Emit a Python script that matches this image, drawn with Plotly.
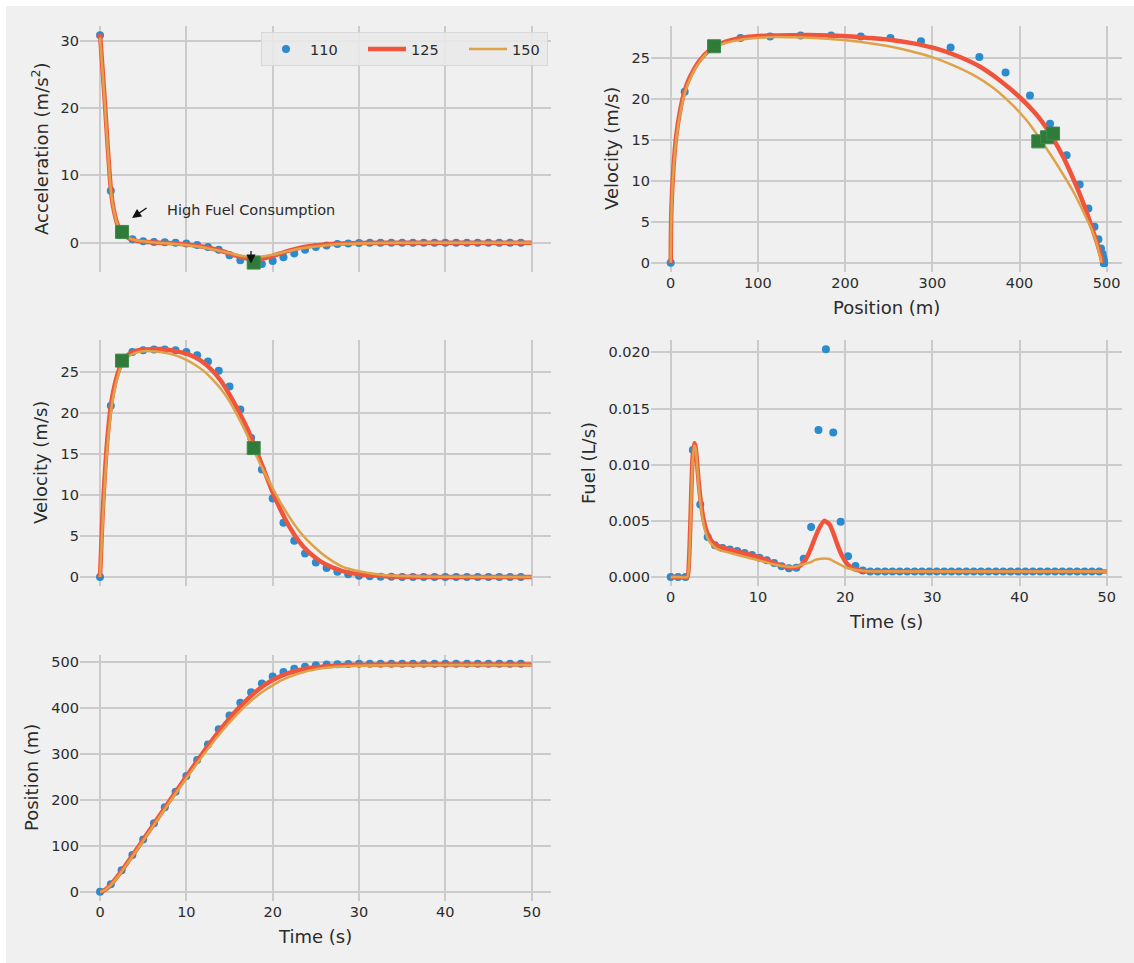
import plotly.graph_objects as go

# ---------------- data ----------------
t_dots = [0, 1.25, 2.5, 3.75, 5, 6.25, 7.5, 8.75, 10, 11.25, 12.5, 13.75, 15, 16.25, 17.5,
          18.75, 20, 21.25, 22.5, 23.75, 25, 26.25, 27.5, 28.75, 30, 31.25, 32.5, 33.75, 35,
          36.25, 37.5, 38.75, 40, 41.25, 42.5, 43.75, 45, 46.25, 47.5, 48.75]
acc_110 = [30.8, 7.7, 1.8, 0.5, 0.2, 0.1, 0.05, 0.0, -0.1, -0.35, -0.65, -1.05, -1.85, -2.6, -3.1,
           -3.15, -2.7, -2.15, -1.6, -1.05, -0.65, -0.4, -0.2, -0.1, -0.05, 0, 0, 0, 0,
           0, 0, 0, 0, 0, 0, 0, 0, 0, 0, 0]
vel_110 = [0, 20.85, 26.3, 27.4, 27.6, 27.7, 27.7, 27.6, 27.4, 27.0, 26.25, 25.1, 23.2, 20.4, 16.95,
           13.1, 9.55, 6.6, 4.4, 2.85, 1.75, 1.1, 0.65, 0.33, 0.16, 0.08, 0.04, 0.02, 0.01,
           0, 0, 0, 0, 0, 0, 0, 0, 0, 0, 0]
pos_110 = [0, 16, 47, 80, 114, 149, 184, 218, 252, 287, 321, 354, 384, 412, 435,
           454, 469, 479, 486, 490.5, 493.5, 495.2, 496.1, 496.6, 496.8, 496.9, 496.9, 496.9, 496.9,
           496.9, 496.9, 496.9, 496.9, 496.9, 496.9, 496.9, 496.9, 496.9, 496.9, 496.9]

t_fuel_dots = [0, 0.85, 1.69, 2.54, 3.39, 4.24, 5.08, 5.93, 6.78, 7.63, 8.47, 9.32, 10.17, 11.02,
               11.86, 12.71, 13.56, 14.41, 15.25, 16.10, 16.95, 17.80, 18.64, 19.49, 20.34, 21.19,
               22.03, 22.88, 23.73, 24.58, 25.42, 26.27, 27.12, 27.97, 28.81, 29.66, 30.51, 31.36,
               32.20, 33.05, 33.90, 34.75, 35.59, 36.44, 37.29, 38.14, 38.98, 39.83, 40.68, 41.53,
               42.37, 43.22, 44.07, 44.92, 45.76, 46.61, 47.46, 48.31, 49.15]
fuel_110 = [0, 0, 0, 0.0113, 0.00645, 0.00357, 0.00282, 0.00259, 0.00244, 0.00232, 0.00214,
            0.00196, 0.00172, 0.00149, 0.00125, 0.00095, 0.00077, 0.00083, 0.00163, 0.00446,
            0.01308, 0.02027, 0.01287, 0.00493, 0.00184, 0.00098, 0.00059,
            0.0005, 0.0005, 0.0005, 0.0005, 0.0005, 0.0005, 0.0005, 0.0005, 0.0005, 0.0005, 0.0005,
            0.0005, 0.0005, 0.0005, 0.0005, 0.0005, 0.0005, 0.0005, 0.0005, 0.0005, 0.0005, 0.0005,
            0.0005, 0.0005, 0.0005, 0.0005, 0.0005, 0.0005, 0.0005, 0.0005, 0.0005, 0.0005]

t_acc = [0, 0.25, 0.5, 0.75, 1, 1.25, 1.5, 2, 2.5, 3, 3.5, 4, 5, 6, 8, 10, 12, 14, 15, 16,
         17, 17.5, 18, 19, 20, 21, 22, 23, 24, 26, 28, 30, 35, 40, 50]
acc_125 = [31.0, 26.5, 22.0, 17.0, 12.2, 8.0, 5.5, 2.8, 1.6, 0.95, 0.55, 0.35, 0.15, 0.05, -0.05,
           -0.25, -0.6, -1.2, -1.6, -2.0, -2.35, -2.45, -2.45, -2.3, -1.95, -1.55, -1.15, -0.8,
           -0.55, -0.25, -0.1, -0.03, 0, 0, 0]
acc_150 = [30.5, 26.2, 21.7, 16.8, 12.0, 7.9, 5.5, 2.8, 1.6, 1.0, 0.6, 0.4, 0.2, 0.05, -0.1,
           -0.35, -0.7, -1.25, -1.55, -1.85, -2.05, -2.1, -2.1, -2.0, -1.8, -1.5, -1.2, -0.9,
           -0.7, -0.4, -0.2, -0.1, 0, 0, 0]

t_vel = [0, 0.25, 0.5, 0.75, 1, 1.25, 1.5, 2, 2.5, 3, 4, 5, 6, 7, 8, 9, 10, 11, 12, 13,
         14, 15, 16, 17, 17.5, 18, 19, 20, 21, 22, 23, 24, 25, 26, 28, 30, 33, 36, 40, 50]
vel_125 = [0, 6.5, 11.5, 15.5, 18.5, 20.8, 22.4, 24.6, 26.0, 26.8, 27.5, 27.7, 27.75, 27.75,
           27.65, 27.45, 27.2, 26.75, 26.1, 25.15, 23.9, 22.2, 20.3, 18.2, 17.0, 15.7, 13.0,
           10.3, 8.0, 6.0, 4.4, 3.2, 2.3, 1.6, 0.75, 0.32, 0.1, 0.03, 0.0, 0.0]
vel_150 = [0, 5.5, 10.5, 14.5, 17.6, 20.0, 21.8, 24.2, 25.8, 26.6, 27.25, 27.5, 27.5, 27.4,
           27.2, 26.9, 26.45, 25.85, 25.1, 24.1, 22.9, 21.4, 19.5, 17.4, 16.2, 15.0, 12.8,
           10.8, 8.9, 7.2, 5.7, 4.5, 3.5, 2.6, 1.3, 0.7, 0.22, 0.08, 0.02, 0]
pos_125 = [0, 0.8, 3.1, 6.4, 10.7, 15.6, 21.0, 32.7, 45.4, 58.6, 85.7, 113.3, 141.0, 168.8,
           196.5, 224.0, 251.3, 278.3, 304.7, 330.3, 354.8, 377.9, 399.1, 418.4, 427.2, 435.4,
           449.7, 461.4, 470.5, 477.5, 482.7, 486.5, 489.3, 491.2, 493.6, 494.6, 495.2, 495.4,
           495.5, 495.5]
pos_150 = [0, 0.7, 2.7, 5.8, 9.8, 14.5, 19.7, 31.2, 43.7, 56.8, 83.7, 111.1, 138.6, 166.1,
           193.4, 220.4, 247.1, 273.3, 298.8, 323.4, 346.9, 369.0, 389.5, 407.9, 416.3, 424.1,
           438.0, 449.8, 460.5, 468.8, 475.5, 480.8, 484.8, 487.8, 491.0, 492.7, 493.6, 493.9,
           494.0, 494.0]

t_fuel = [0, 1, 1.9, 2.1, 2.3, 2.5, 2.7, 2.85, 3.0, 3.2, 3.5, 3.8, 4.2, 4.7, 5.3, 6, 7, 8, 9, 10,
          11, 12, 13, 13.8, 14.5, 15, 15.5, 16, 16.5, 17, 17.6, 18.2, 18.7, 19.2, 19.7, 20.2,
          20.8, 21.5, 22.5, 25, 30, 40, 50]
fuel_125 = [0, 0, 0, 0.0015, 0.0060, 0.0105, 0.0119, 0.0116, 0.0104, 0.0085, 0.0064, 0.0050,
            0.0039, 0.0032, 0.0028, 0.0026, 0.0024, 0.0022, 0.0020, 0.0018, 0.0015, 0.0012,
            0.00095, 0.0008, 0.00085, 0.0011, 0.0016, 0.0024, 0.0034, 0.0043, 0.0050, 0.0047,
            0.0038, 0.0027, 0.0018, 0.0012, 0.0008, 0.0006, 0.00052, 0.0005, 0.0005, 0.0005,
            0.0005]
fuel_150 = [0, 0, 0, 0.0012, 0.0055, 0.0100, 0.0117, 0.0115, 0.0102, 0.0082, 0.0060, 0.0046,
            0.0035, 0.0029, 0.0025, 0.0023, 0.0021, 0.0019, 0.0017, 0.0015, 0.0013, 0.0011,
            0.00095, 0.0009, 0.00095, 0.0011, 0.0012, 0.0013, 0.0015, 0.0016, 0.00165, 0.0016,
            0.0014, 0.0012, 0.0010, 0.0008, 0.0007, 0.0006, 0.00052, 0.0005, 0.0005, 0.0005,
            0.0005]

# high fuel consumption markers
hf_t = [2.55, 17.8]
hf_acc = [1.6, -2.95]
hf_vel = [26.35, 15.7]
hf_pos_x = [49.7, 421.5, 431.5, 438.5]
hf_pos_v = [26.4, 14.8, 15.3, 15.75]

series_names = ["110", "125", "150"]

# ---------------- style ----------------
BG = "#f0f0f0"
GRID = "#cbcbcb"
BLUE = "#2b8bcf"
RED = "#f0553c"
ORANGE = "#dea24a"
GREEN = "#2f7b3a"
TXT = "#2b2b2b"
FONT = "DejaVu Sans"
W, H = 1134, 963

fig = go.Figure()


def add_panel(xa, ya, xd, yd, xl, yl, xo, yo, legend=False, spline=0.9):
    fig.add_trace(go.Scatter(x=xd, y=yd, mode="markers", name=series_names[0],
                             marker=dict(color=BLUE, size=8), showlegend=legend,
                             xaxis=xa, yaxis=ya))
    fig.add_trace(go.Scatter(x=xl[0], y=yl[0], mode="lines", name=series_names[1],
                             line=dict(color=RED, width=4.5, shape="spline", smoothing=spline),
                             showlegend=legend, xaxis=xa, yaxis=ya))
    fig.add_trace(go.Scatter(x=xl[1], y=yl[1], mode="lines", name=series_names[2],
                             line=dict(color=ORANGE, width=2.5, shape="spline", smoothing=spline),
                             showlegend=legend, legendwidth=30, xaxis=xa, yaxis=ya))
    fig.add_trace(go.Scatter(x=xo, y=yo, mode="markers", showlegend=False,
                             marker=dict(color=GREEN, symbol="square", size=13,
                                         line=dict(color="#3f8a4a", width=1)),
                             xaxis=xa, yaxis=ya))


add_panel("x", "y", t_dots, acc_110, [t_acc, t_acc], [acc_125, acc_150], hf_t, hf_acc, legend=True)
add_panel("x2", "y2", pos_110, vel_110, [pos_125, pos_150], [vel_125, vel_150], hf_pos_x, hf_pos_v)
add_panel("x3", "y3", t_dots, vel_110, [t_vel, t_vel], [vel_125, vel_150], hf_t, hf_vel)
fig.add_trace(go.Scatter(x=t_fuel_dots, y=fuel_110, mode="markers", showlegend=False,
                         marker=dict(color=BLUE, size=8), xaxis="x4", yaxis="y4"))
fig.add_trace(go.Scatter(x=t_fuel, y=fuel_125, mode="lines", showlegend=False,
                         line=dict(color=RED, width=4.5, shape="spline", smoothing=0.6),
                         xaxis="x4", yaxis="y4"))
fig.add_trace(go.Scatter(x=t_fuel, y=fuel_150, mode="lines", showlegend=False,
                         line=dict(color=ORANGE, width=2.5, shape="spline", smoothing=0.6),
                         xaxis="x4", yaxis="y4"))
fig.add_trace(go.Scatter(x=t_dots, y=pos_110, mode="markers", showlegend=False,
                         marker=dict(color=BLUE, size=8), xaxis="x5", yaxis="y5"))
fig.add_trace(go.Scatter(x=t_vel, y=pos_125, mode="lines", showlegend=False,
                         line=dict(color=RED, width=4.5, shape="spline", smoothing=0.9),
                         xaxis="x5", yaxis="y5"))
fig.add_trace(go.Scatter(x=t_vel, y=pos_150, mode="lines", showlegend=False,
                         line=dict(color=ORANGE, width=2.5, shape="spline", smoothing=0.9),
                         xaxis="x5", yaxis="y5"))


def px_x(a, b):
    return [a / W, b / W]


def px_y(top, bottom):
    return [1 - bottom / H, 1 - top / H]


LEFT = px_x(80, 551)
RIGHT = px_x(651, 1121.7)
ROW1 = px_y(26, 272)
ROW2 = px_y(340, 586)
ROW3 = px_y(655, 901)

common = dict(showgrid=True, gridcolor=GRID, gridwidth=1.6, zeroline=False, showline=False,
              ticks="", tickfont=dict(family=FONT, size=14.5, color=TXT))

t_ticks = [0, 10, 20, 30, 40, 50]
fig.update_layout(
    xaxis=dict(domain=LEFT, anchor="y", range=[-2.32, 52.24], tickvals=t_ticks,
               showticklabels=False, **common),
    yaxis=dict(domain=ROW1, anchor="x", range=[-4.35, 32.18], tickvals=[0, 10, 20, 30], **common),
    xaxis2=dict(domain=RIGHT, anchor="y2", range=[-22.6, 517.2],
                tickvals=[0, 100, 200, 300, 400, 500], **common),
    yaxis2=dict(domain=ROW1, anchor="x2", range=[-1.13, 28.87],
                tickvals=[0, 5, 10, 15, 20, 25], **common),
    xaxis3=dict(domain=LEFT, anchor="y3", range=[-2.32, 52.24], tickvals=t_ticks,
                showticklabels=False, **common),
    yaxis3=dict(domain=ROW2, anchor="x3", range=[-1.10, 28.86],
                tickvals=[0, 5, 10, 15, 20, 25], **common),
    xaxis4=dict(domain=RIGHT, anchor="y4", range=[-2.26, 51.72], tickvals=t_ticks, **common),
    yaxis4=dict(domain=ROW2, anchor="x4", range=[-0.0008, 0.0211],
                tickvals=[0, 0.005, 0.010, 0.015, 0.020], tickformat=".3f", **common),
    xaxis5=dict(domain=LEFT, anchor="y5", range=[-2.32, 52.24], tickvals=t_ticks, **common),
    yaxis5=dict(domain=ROW3, anchor="x5", range=[-20.3, 516],
                tickvals=[0, 100, 200, 300, 400, 500], **common),
)


def ann_px(text, x, y, angle=0, size=18, xanchor="center"):
    fig.add_annotation(text=text, x=x / W, y=1 - y / H, xref="paper", yref="paper",
                       showarrow=False, textangle=angle, xanchor=xanchor, yanchor="middle",
                       font=dict(family=FONT, size=size, color=TXT))


ann_px("Acceleration (m/s<sup>2</sup>)", 40, 149, angle=-90)
ann_px("Velocity (m/s)", 611, 149, angle=-90)
ann_px("Position (m)", 886, 307)
ann_px("Velocity (m/s)", 40, 463, angle=-90)
ann_px("Fuel (L/s)", 588, 463, angle=-90)
ann_px("Time (s)", 886, 621)
ann_px("Position (m)", 31, 778, angle=-90)
ann_px("Time (s)", 315, 936)

# annotation in the acceleration panel
fig.add_annotation(text="High Fuel Consumption", x=7.53, y=4.86, xref="x", yref="y",
                   showarrow=False, xanchor="left", yanchor="middle",
                   font=dict(family=FONT, size=14.5, color=TXT))
fig.add_annotation(text="", x=3.71, y=3.67, xref="x", yref="y", showarrow=True,
                   ax=16, ay=-11, arrowhead=2, arrowsize=1.4, arrowwidth=1.3, arrowcolor="#111")
fig.add_annotation(text="", x=17.49, y=-3.1, xref="x", yref="y", showarrow=True,
                   ax=0, ay=-14, arrowhead=2, arrowsize=1.4, arrowwidth=1.3, arrowcolor="#111")

fig.update_layout(
    width=W, height=H,
    margin=dict(l=0, r=0, t=0, b=0),
    paper_bgcolor="white",
    plot_bgcolor=BG,
    font=dict(family=FONT, color=TXT),
    shapes=[dict(type="rect", xref="paper", yref="paper", x0=6 / W, x1=1, y0=0, y1=1 - 6 / H,
                 fillcolor=BG, line=dict(width=0), layer="below")],
    legend=dict(orientation="h", x=261 / W, xanchor="left", y=1 - 32 / H, yanchor="top",
                bgcolor="rgba(233,233,233,0.9)", bordercolor="#d8d8d8", borderwidth=1,
                font=dict(family=FONT, size=14.5, color=TXT),
                itemwidth=38, entrywidth=48, entrywidthmode="pixels"),
    showlegend=True,
)

fig.write_html("out.html", config={"displayModeBar": False})
